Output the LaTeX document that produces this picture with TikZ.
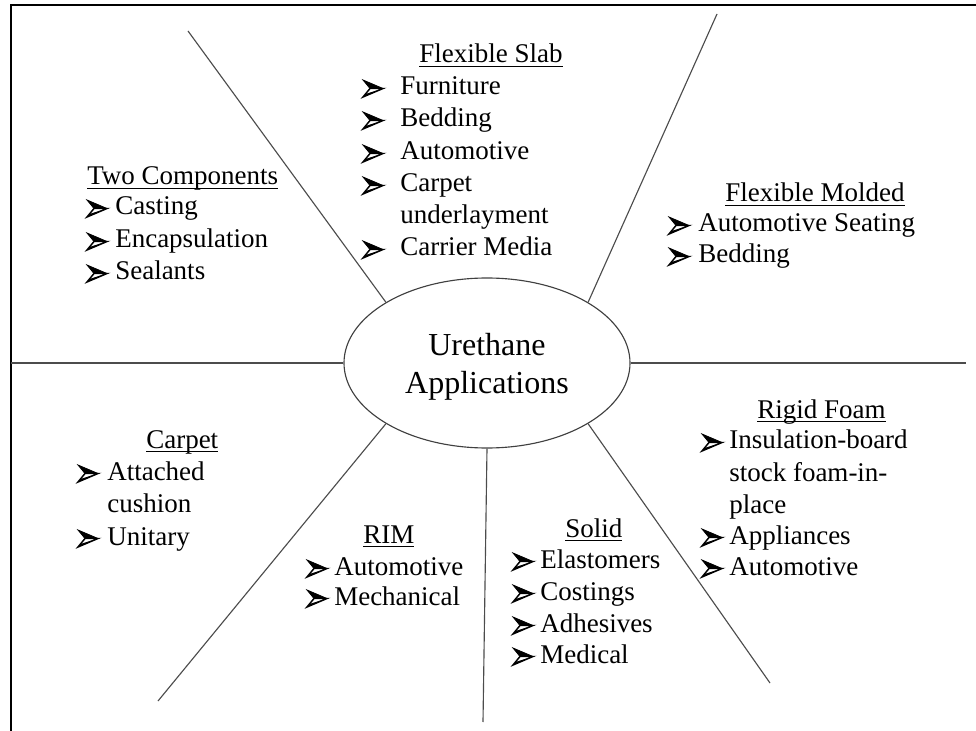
\documentclass[tikz,border=0pt]{standalone}
\usepackage{fontspec}
\setmainfont{Liberation Serif}
\usetikzlibrary{shapes.geometric}

% underlined heading with a fixed rule depth
\newcommand\ulttl[1]{\sbox0{#1}\rlap{\rule[-3pt]{\wd0}{0.9pt}}\usebox0}

\tikzset{
  itemtxt/.style={anchor=base west, inner sep=0pt, font=\fontsize{20.25}{24}\selectfont},
  hubtxt/.style={anchor=base, inner sep=0pt, font=\fontsize{24}{28}\selectfont},
  spoke/.style={draw=black!70, line width=0.85pt},
  frame/.style={draw=black, line width=1.6pt},
  hub/.style={ellipse, draw=black!75, line width=0.85pt,
              minimum width=214.5pt, minimum height=127.5pt, inner sep=0pt},
  % three-dimensional arrowhead bullet, origin at left end of the baseline
  arrbul/.pic={
    \filldraw[black, line width=0.6pt, line join=miter] (0,-15) -- (20,-6.5) -- (7,-6.5) -- cycle;
    \filldraw[fill=white, draw=black, line width=1.1pt, line join=miter] (7,-6.5) -- (20,-6.5) -- (0,2) -- cycle;
    \fill[black] (0,2) -- (20,-6.5) -- (4,-1.5) -- cycle;
  }
}

% bullet row: name, bullet x, text x, baseline y, text
\newcommand\bitem[5]{%
  \pic at (#2,#4) {arrbul};
  \node[itemtxt] (#1) at (#3,#4) {#5};}

\begin{document}
\begin{tikzpicture}[x=0.75pt,y=-0.75pt]
\useasboundingbox (0,0) rectangle (976,731);

% frame: top and left edges
\coordinate (frTR) at (976,5);
\coordinate (frTL) at (11,5);
\coordinate (frBL) at (11,731);
\draw[frame] (frTR) -- (frTL) -- (frBL);

% central hub
\node[hub] (hub) at (487,363) {};
\node[hubtxt] (hubA) at (487,356) {Urethane};
\node[hubtxt] (hubB) at (487,393) {Applications};

% spoke end points
\coordinate (sTL) at (188,31);
\coordinate (sTR) at (717,14);
\coordinate (sL)  at (11,363);
\coordinate (sR)  at (966,363);
\coordinate (sBL) at (158,701);
\coordinate (sB)  at (483,722);
\coordinate (sBR) at (770,683);

\draw[spoke] (hub.149) -- (sTL);
\draw[spoke] (hub.31)  -- (sTR);
\draw[spoke] (hub.180) -- (sL);
\draw[spoke] (hub.0)   -- (sR);
\draw[spoke] (hub.211) -- (sBL);
\draw[spoke] (hub.270) -- (sB);
\draw[spoke] (hub.329) -- (sBR);

% Flexible Slab
\node[itemtxt] (fsT) at (419,63) {\ulttl{Flexible Slab}};
\bitem{fs1}{363}{400}{95}{Furniture}
\bitem{fs2}{363}{400}{127}{Bedding}
\bitem{fs3}{363}{400}{160}{Automotive}
\bitem{fs4}{363}{400}{192}{Carpet}
\node[itemtxt] (fs4b) at (400,224) {underlayment};
\bitem{fs5}{363}{400}{256}{Carrier Media}

% Two Components
\node[itemtxt] (tcT) at (87,185) {\ulttl{Two Components}};
\bitem{tc1}{87}{115}{215}{Casting}
\bitem{tc2}{87}{115}{248}{Encapsulation}
\bitem{tc3}{87}{115}{280}{Sealants}

% Flexible Molded
\node[itemtxt] (fmT) at (725,202) {\ulttl{Flexible Molded}};
\bitem{fm1}{669}{698}{232}{Automotive Seating}
\bitem{fm2}{669}{698}{263}{Bedding}

% Carpet
\node[itemtxt] (cpT) at (146,448) {\ulttl{Carpet}};
\bitem{cp1}{78}{107}{480}{Attached}
\node[itemtxt] (cp1b) at (107,512) {cushion};
\bitem{cp2}{78}{107}{545}{Unitary}

% RIM
\node[itemtxt] (rmT) at (363,543) {\ulttl{RIM}};
\bitem{rm1}{307}{334}{575}{Automotive}
\bitem{rm2}{307}{334}{605}{Mechanical}

% Solid
\node[itemtxt] (slT) at (565,537) {\ulttl{Solid}};
\bitem{sl1}{513}{540}{568}{Elastomers}
\bitem{sl2}{513}{540}{600}{Costings}
\bitem{sl3}{513}{540}{632}{Adhesives}
\bitem{sl4}{513}{540}{663}{Medical}

% Rigid Foam
\node[itemtxt] (rfT) at (757,418) {\ulttl{Rigid Foam}};
\bitem{rf1}{702}{729}{449}{Insulation-board}
\node[itemtxt] (rf1b) at (729,481) {stock foam-in-};
\node[itemtxt] (rf1c) at (729,513) {place};
\bitem{rf2}{702}{729}{544}{Appliances}
\bitem{rf3}{702}{729}{575}{Automotive}

\end{tikzpicture}
\end{document}
